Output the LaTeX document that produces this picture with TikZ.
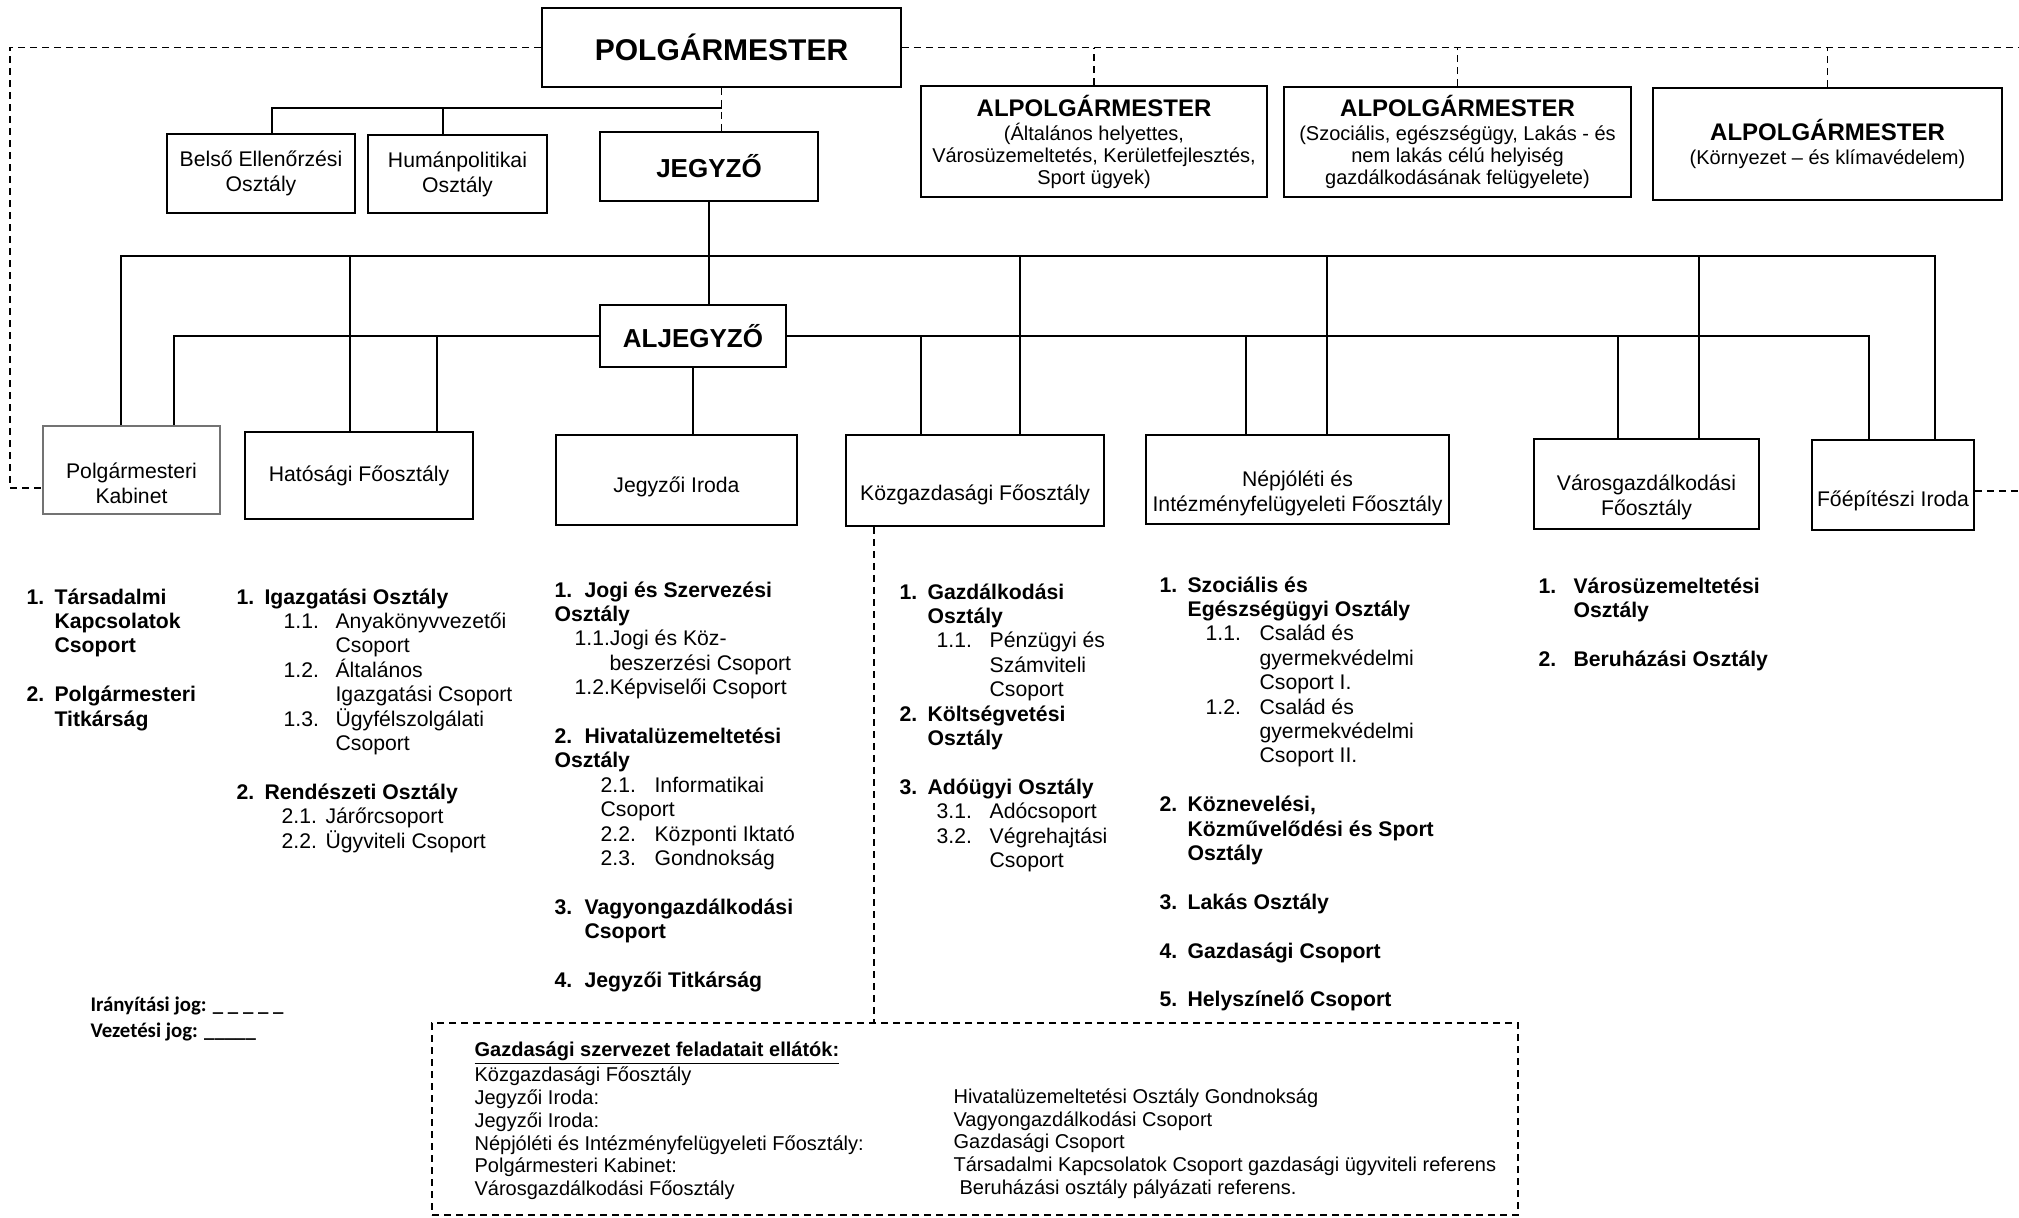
\documentclass[tikz,border=0pt]{standalone}
\usepackage{fontspec}
\setmainfont{Liberation Sans}
\newfontfamily\jelfont{Carlito}
\usetikzlibrary{positioning}

% szam: a number in a box of fixed width, beh: indent, lejjebb: pushes a text down in its box
\newcommand{\szam}[2][14pt]{\makebox[#1][l]{#2}}
\newcommand{\beh}[1]{\hspace*{#1}}
\newcommand{\lejjebb}[1]{\rule{0pt}{#1}}

\begin{document}
\begin{tikzpicture}[x=0.5pt,y=-0.5pt,line width=0.6pt,
    doboz/.style={draw,line width=0.9pt,align=center,inner sep=2pt,font=\fontsize{10.6}{12.5}\selectfont},
    fonok/.style={doboz,font=\fontsize{13}{15}\selectfont\bfseries},
    alpm/.style={doboz,font=\fontsize{10}{11}\selectfont},
    meret/.style 2 args={minimum width=#1*0.5pt,minimum height=#2*0.5pt},
    lista/.style={anchor=north west,align=left,inner sep=0pt,font=\fontsize{10.6}{12.2}\selectfont},
    iranyitas/.style={dash pattern=on 3.5pt off 2.5pt}]
\useasboundingbox (0,0) rectangle (2019,1217);

% felso szint
\node[fonok,font=\fontsize{15}{17}\selectfont\bfseries,meret={359}{79}] (pm) at (721.5,47.5) {POLGÁRMESTER};
\node[alpm,meret={346}{111}] (a1) at (1094,141.5) {{\fontsize{12}{14}\selectfont\bfseries ALPOLGÁRMESTER}\\[1pt](Általános helyettes,\\Városüzemeltetés, Kerületfejlesztés,\\Sport ügyek)};
\node[alpm,meret={347}{110}] (a2) at (1457.5,142) {{\fontsize{12}{14}\selectfont\bfseries ALPOLGÁRMESTER}\\[1pt](Szociális, egészségügy, Lakás - és\\nem lakás célú helyiség\\gazdálkodásának felügyelete)};
\node[alpm,meret={349}{112}] (a3) at (1827.5,144) {{\fontsize{12}{14}\selectfont\bfseries ALPOLGÁRMESTER}\\[1pt](Környezet – és klímavédelem)};

\node[doboz,meret={188}{79}] (belso) at (261,173.5) {Belső Ellenőrzési\\Osztály};
\node[doboz,meret={179}{78}] (human) at (457.5,174) {Humánpolitikai\\Osztály};
\node[fonok,meret={218}{69}] (jegyzo) at (709,166.5) {JEGYZŐ};
\node[fonok,meret={186}{62}] (aljegyzo) at (693,336) {ALJEGYZŐ};

% foosztalyok
\node[doboz,draw=black!55,line width=0.6pt,meret={177}{88}] (kabinet) at (131.5,470) {\lejjebb{21pt}Polgármesteri\\Kabinet};
\node[doboz,meret={228}{87}] (hatosagi) at (359,475.5) {Hatósági Főosztály};
\node[doboz,meret={241}{90}] (jiroda) at (676.5,480) {\lejjebb{14.5pt}Jegyzői Iroda};
\node[doboz,meret={258}{91}] (kozgazd) at (975,480.5) {\lejjebb{22pt}Közgazdasági Főosztály};
\node[doboz,meret={303}{89}] (nepjoleti) at (1297.5,479.5) {\lejjebb{22pt}Népjóléti és\\Intézményfelügyeleti Főosztály};
\node[doboz,meret={225}{90}] (varosg) at (1646.5,484) {\lejjebb{21pt}Városgazdálkodási\\Főosztály};
\node[doboz,meret={162}{90}] (foepit) at (1893,485) {\lejjebb{23.5pt}Főépítészi Iroda};

% iranyitasi jog
\coordinate (bal) at (10,47.5);
\coordinate (jobb) at (2019,47.5);
\draw[iranyitas] (pm.west) -- (bal) |- ([yshift=-9pt]kabinet.west);
\draw[iranyitas] (pm.east) -- (pm.east -| jobb);
\foreach \a in {a1,a2,a3}
  \draw[iranyitas] (\a.north) -- (\a.north |- jobb);
\draw[iranyitas] ([yshift=-3pt]foepit.east) -- ([yshift=-3pt]foepit.east -| jobb);
\draw[iranyitas] (pm.south) -- (pm.south |- jegyzo.north);

% vezetesi jog
\coordinate (pmsin) at (0,108);
\draw ([xshift=5.5pt]belso.north) |- (pm.south |- pmsin);
\draw ([xshift=-7.25pt]human.north) -- ([xshift=-7.25pt]human.north |- pmsin);

\coordinate (jsin) at (0,256);
\draw (jegyzo.south) -- (jegyzo.south |- aljegyzo.north);
\draw ([xshift=-5.25pt]kabinet.north) |- ([xshift=21pt]foepit.north |- jsin) -- ([xshift=21pt]foepit.north);
\foreach \d/\s in {hatosagi/-4.5pt,kozgazd/22.5pt,nepjoleti/14.75pt,varosg/26.25pt}
  \draw ([xshift=\s]\d.north) -- ([xshift=\s]\d.north |- jsin);

\draw ([xshift=21.25pt]kabinet.north) |- (aljegyzo.west);
\draw (aljegyzo.east) -| ([xshift=-12pt]foepit.north);
\draw (aljegyzo.south) -- (aljegyzo.south |- jiroda.north);
\foreach \d/\s in {hatosagi/39pt,kozgazd/-27pt,nepjoleti/-25.75pt,varosg/-14.25pt}
  \draw ([xshift=\s]\d.north) -- ([xshift=\s]\d.north |- aljegyzo.east);

% osztalyok listai
\node[lista] (l1) at (26,588) {%
  \textbf{\szam{1.}Társadalmi}\\
  \textbf{\beh{14pt}Kapcsolatok}\\
  \textbf{\beh{14pt}Csoport}\\[12.2pt]
  \textbf{\szam{2.}Polgármesteri}\\
  \textbf{\beh{14pt}Titkárság}};
\node[lista] (l2) at (236,588) {%
  \textbf{\szam{1.}Igazgatási Osztály}\\
  \beh{23.5pt}\szam[26pt]{1.1.}Anyakönyvvezetői\\
  \beh{49.5pt}Csoport\\
  \beh{23.5pt}\szam[26pt]{1.2.}Általános\\
  \beh{49.5pt}Igazgatási Csoport\\
  \beh{23.5pt}\szam[26pt]{1.3.}Ügyfélszolgálati\\
  \beh{49.5pt}Csoport\\[12.2pt]
  \textbf{\szam{2.}Rendészeti Osztály}\\
  \beh{22.5pt}\szam[22pt]{2.1.}Járőrcsoport\\
  \beh{22.5pt}\szam[22pt]{2.2.}Ügyviteli Csoport};
\node[lista] (l3) at (554,581) {%
  \textbf{\szam[15pt]{1.}Jogi és Szervezési}\\
  \textbf{Osztály}\\
  \beh{10pt}1.1.Jogi és Köz-\\
  \beh{27.5pt}beszerzési Csoport\\
  \beh{10pt}1.2.Képviselői Csoport\\[12.2pt]
  \textbf{\szam[15pt]{2.}Hivatalüzemeltetési}\\
  \textbf{Osztály}\\
  \beh{23pt}\szam[27pt]{2.1.}Informatikai\\
  \beh{23pt}Csoport\\
  \beh{23pt}\szam[27pt]{2.2.}Központi Iktató\\
  \beh{23pt}\szam[27pt]{2.3.}Gondnokság\\[12.2pt]
  \textbf{\szam[15pt]{3.}Vagyongazdálkodási}\\
  \textbf{\beh{15pt}Csoport}\\[12.2pt]
  \textbf{\szam[15pt]{4.}Jegyzői Titkárság}};
\node[lista] (l4) at (899,583) {%
  \textbf{\szam{1.}Gazdálkodási}\\
  \textbf{\beh{14pt}Osztály}\\
  \beh{18.5pt}\szam[26.5pt]{1.1.}Pénzügyi és\\
  \beh{45pt}Számviteli\\
  \beh{45pt}Csoport\\
  \textbf{\szam{2.}Költségvetési}\\
  \textbf{\beh{14pt}Osztály}\\[12.2pt]
  \textbf{\szam{3.}Adóügyi Osztály}\\
  \beh{18.5pt}\szam[26.5pt]{3.1.}Adócsoport\\
  \beh{18.5pt}\szam[26.5pt]{3.2.}Végrehajtási\\
  \beh{45pt}Csoport};
\node[lista] (l5) at (1159,576) {%
  \textbf{\szam{1.}Szociális és}\\
  \textbf{\beh{14pt}Egészségügyi Osztály}\\
  \beh{23pt}\szam[27pt]{1.1.}Család és\\
  \beh{50pt}gyermekvédelmi\\
  \beh{50pt}Csoport I.\\
  \beh{23pt}\szam[27pt]{1.2.}Család és\\
  \beh{50pt}gyermekvédelmi\\
  \beh{50pt}Csoport II.\\[12.2pt]
  \textbf{\szam{2.}Köznevelési,}\\
  \textbf{\beh{14pt}Közművelődési és Sport}\\
  \textbf{\beh{14pt}Osztály}\\[12.2pt]
  \textbf{\szam{3.}Lakás Osztály}\\[12.2pt]
  \textbf{\szam{4.}Gazdasági Csoport}\\[12.2pt]
  \textbf{\szam{5.}Helyszínelő Csoport}};
\node[lista] (l6) at (1538,577) {%
  \textbf{\szam[17.5pt]{1.}Városüzemeltetési}\\
  \textbf{\beh{17.5pt}Osztály}\\[12.2pt]
  \textbf{\szam[17.5pt]{2.}Beruházási Osztály}};

% jelmagyarazat
\node[anchor=base west,inner sep=0pt,font=\jelfont\fontsize{10.4}{12}\selectfont\bfseries] (iranyjel) at (90,1011) {Irányítási jog: \_ \_ \_ \_ \_};
\node[below=13pt of iranyjel.base west,anchor=base west,inner sep=0pt,font=\jelfont\fontsize{10.4}{12}\selectfont\bfseries] (vezjel) {Vezetési jog: \_\_\_\_\_};

% gazdasagi szervezet
\node[draw,iranyitas,line width=0.8pt,meret={1086}{192},inner sep=0pt] (gazd) at (975,1119) {};
\draw[iranyitas] ([xshift=-50.5pt]kozgazd.south) -- ([xshift=-50.5pt]kozgazd.south |- gazd.north);
\node[lista,font=\fontsize{10}{11.4}\selectfont] (gazdbal) at (474,1041.5) {%
  \underline{\textbf{Gazdasági szervezet feladatait ellátók:}}\\
  Közgazdasági Főosztály\\
  Jegyzői Iroda:\\
  Jegyzői Iroda:\\
  Népjóléti és Intézményfelügyeleti Főosztály:\\
  Polgármesteri Kabinet:\\
  Városgazdálkodási Főosztály};
\node[lista,font=\fontsize{10}{11.4}\selectfont] (gazdjobb) at (953,1088) {%
  Hivatalüzemeltetési Osztály Gondnokság\\
  Vagyongazdálkodási Csoport\\
  Gazdasági Csoport\\
  Társadalmi Kapcsolatok Csoport gazdasági ügyviteli referens\\
  \beh{3pt}Beruházási osztály pályázati referens.};
\end{tikzpicture}
\end{document}
